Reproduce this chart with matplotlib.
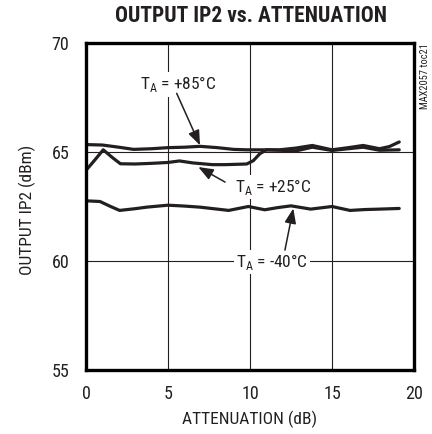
import matplotlib
matplotlib.use('Agg')
import matplotlib.pyplot as plt
from matplotlib import font_manager

names = {f.name for f in font_manager.fontManager.ttflist}


def first_font(options, default='Liberation Sans'):
    for n in options:
        if n in names:
            return n
    return default


body = first_font(['Liberation Sans Narrow', 'Roboto Condensed', 'Arimo Narrow',
                   'PT Sans Narrow', 'Barlow Condensed', 'Archivo Narrow'])
head = first_font(['Roboto Condensed', 'Barlow Condensed', 'Asap Condensed', 'Archivo Narrow'])
plt.rcParams['font.family'] = [body, 'DejaVu Sans']
plt.rcParams['mathtext.fontset'] = 'custom'
plt.rcParams['mathtext.rm'] = body

# attenuation (dB) / output IP2 (dBm) per temperature
x85 = [0, 1, 2, 2.9, 4, 5, 6, 6.95, 8, 9, 9.8, 10.8, 11.8, 12.8, 13.8, 15, 16, 16.9, 17.9, 18.5, 19.1]
y85 = [65.34, 65.32, 65.22, 65.12, 65.15, 65.2, 65.22, 65.26, 65.2, 65.12, 65.1, 65.1, 65.1,
       65.18, 65.3, 65.1, 65.2, 65.3, 65.15, 65.25, 65.46]

x25 = [0, 0.5, 1.05, 1.6, 2.1, 3, 4, 5, 5.7, 6.5, 7.7, 8.5, 9.8, 10.2, 10.6, 11.0, 11.8,
       12.8, 13.8, 15, 16, 16.9, 17.9, 19.1]
y25 = [64.16, 64.6, 65.1, 64.75, 64.46, 64.45, 64.48, 64.52, 64.59, 64.5, 64.42, 64.42,
       64.45, 64.6, 64.92, 65.1, 65.08, 65.05, 65.22, 65.07, 65.15, 65.22, 65.08, 65.1]

x40 = [0, 0.85, 1.5, 2.05, 3, 3.7, 5, 6, 6.95, 8, 8.7, 9.9, 10.9, 11.7, 12.5, 13.7, 15,
       16.1, 17, 17.9, 19.1]
y40 = [62.76, 62.73, 62.5, 62.32, 62.4, 62.47, 62.56, 62.52, 62.47, 62.38, 62.32, 62.5,
       62.35, 62.45, 62.53, 62.38, 62.5, 62.32, 62.36, 62.38, 62.41]

xticks = [0, 5, 10, 15, 20]
yticks = [55, 60, 65, 70]

ink = '#231f20'

fig = plt.figure(figsize=(4.32, 4.34), dpi=100)
ax = fig.add_axes([0.1991, 0.1475, 0.7592, 0.7534])

for xs, ys in [(x85, y85), (x25, y25), (x40, y40)]:
    ax.plot(xs, ys, color=ink, linewidth=2.3, solid_capstyle='round', zorder=3)

ax.set_xlim(0, 20)
ax.set_ylim(55, 70)
ax.set_xticks(xticks)
ax.set_yticks(yticks)
ax.tick_params(length=0, labelsize=13, colors=ink)
ax.tick_params(axis='x', pad=11)
ax.tick_params(axis='y', pad=12)
ax.grid(color=ink, linewidth=0.8)
for s in ax.spines.values():
    s.set_linewidth(2.4)
    s.set_color('black')
    s.set_zorder(5)

ax.set_xlabel('ATTENUATION (dB)', fontsize=12.5, color=ink, va='center')
ax.xaxis.set_label_coords(0.5, -0.15)
ax.set_ylabel('OUTPUT IP2 (dBm)', fontsize=12.5, color=ink, va='center')
ax.yaxis.set_label_coords(-0.18, 0.49)

fig.text(0.581, 0.963, 'OUTPUT IP2 vs. ATTENUATION', ha='center', va='center',
         fontsize=15.5, fontweight='heavy', family=[head, 'DejaVu Sans'], color=ink)
fig.text(0.983, 0.9, 'MAX2057 toc21', rotation=90, ha='center', va='top',
         fontsize=7.5, color=ink)

box = dict(facecolor='white', edgecolor='none', pad=1.5)
labels = [
    (r'T$_\mathregular{A}$ = +85°C', (5.6, 68.1), (6.95, 65.31), (5.53, 67.69)),
    (r'T$_\mathregular{A}$ = +25°C', (11.42, 63.4), (6.85, 64.31), (8.48, 63.62)),
    (r'T$_\mathregular{A}$ = -40°C', (11.32, 59.97), (12.64, 62.41), (12.13, 60.5)),
]
for txt, pos, tip, start in labels:
    ax.text(pos[0], pos[1], txt, ha='center', va='center', fontsize=12.5,
            color=ink, bbox=box, zorder=4)
    ax.annotate('', xy=tip, xytext=start,
                arrowprops=dict(arrowstyle='-|>,head_length=0.9,head_width=0.35',
                                color=ink, linewidth=1.1, shrinkA=0, shrinkB=0),
                zorder=4)

fig.savefig('out.png', dpi=100)
